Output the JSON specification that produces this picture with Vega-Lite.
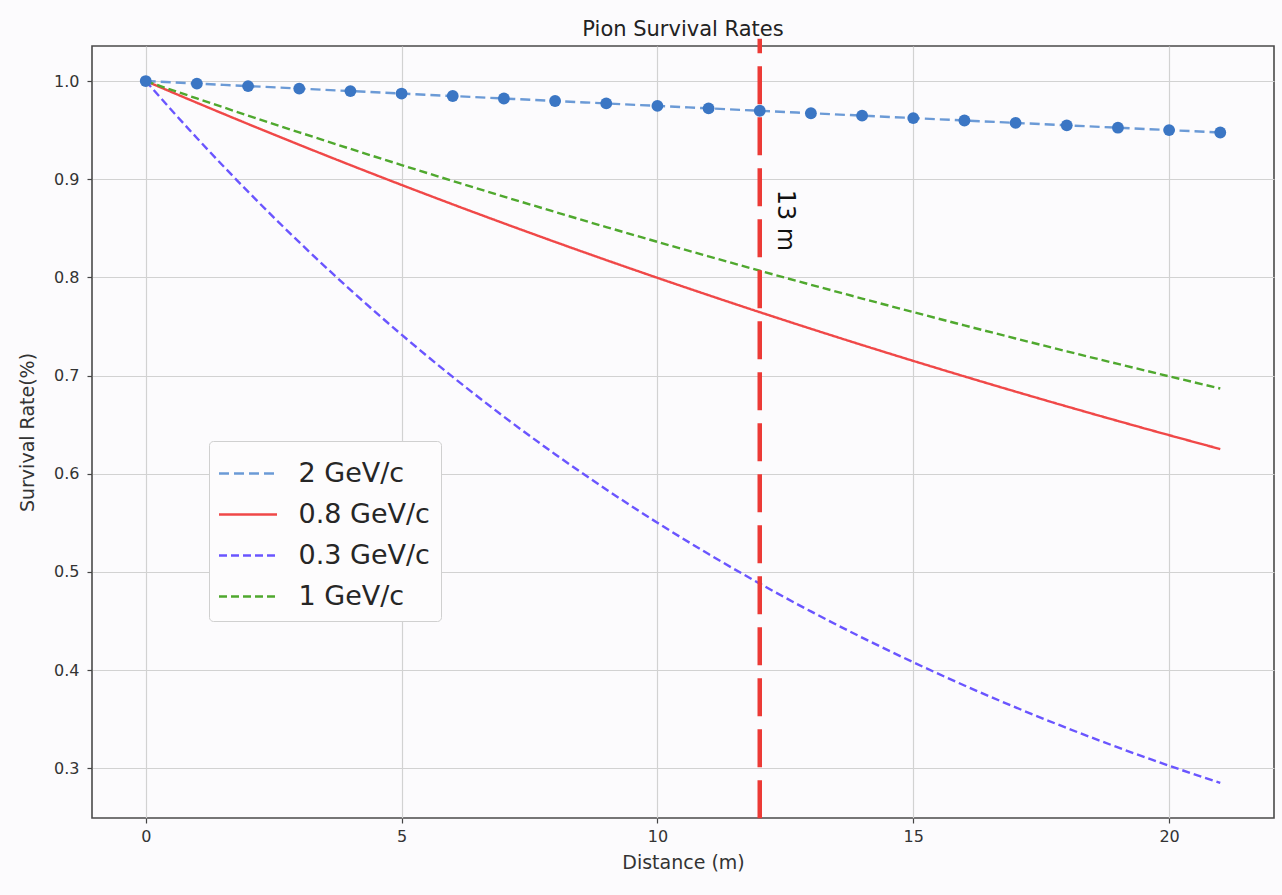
{
  "$schema": "https://vega.github.io/schema/vega-lite/v6.json",
  "width": 1182,
  "height": 772,
  "autosize": {"type": "none"},
  "padding": {"left": 92, "top": 46, "right": 8, "bottom": 77},
  "background": "#fcfbfd",
  "title": {"text": "Pion Survival Rates", "fontSize": 21, "fontWeight": "normal", "font": "DejaVu Sans", "color": "#222222", "offset": -3},
  "config": {
    "font": "DejaVu Sans",
    "view": {"stroke": "#4a4a4a", "strokeWidth": 1.6, "fill": "#fcfbfd"},
    "axis": {
      "domain": false,
      "grid": true,
      "gridColor": "#d2d2d2",
      "gridWidth": 1.2,
      "tickColor": "#444444",
      "tickSize": 5,
      "tickWidth": 1.2,
      "labelFont": "DejaVu Sans",
      "labelFontSize": 16,
      "labelColor": "#333333",
      "titleFont": "DejaVu Sans",
      "titleFontSize": 19,
      "titleFontWeight": "normal",
      "titleColor": "#333333"
    },
    "legend": {
      "orient": "none",
      "legendX": 117,
      "legendY": 395,
      "fillColor": "#fdfcfd",
      "strokeColor": "#d0d0d0",
      "cornerRadius": 4,
      "padding": 11,
      "labelFont": "DejaVu Sans",
      "labelFontSize": 27,
      "labelColor": "#262626",
      "labelOffset": 29,
      "symbolType": "M-1.45,0H1.45",
      "symbolSize": 1600,
      "symbolOffset": 6.5,
      "symbolStrokeWidth": 2.5,
      "rowPadding": 6
    }
  },
  "datasets": {
    "curves": [
      {"x": 0, "rate": 1.0, "series": "2 GeV/c"},
      {"x": 1, "rate": 0.99744, "series": "2 GeV/c"},
      {"x": 2, "rate": 0.99489, "series": "2 GeV/c"},
      {"x": 3, "rate": 0.99234, "series": "2 GeV/c"},
      {"x": 4, "rate": 0.98979, "series": "2 GeV/c"},
      {"x": 5, "rate": 0.98726, "series": "2 GeV/c"},
      {"x": 6, "rate": 0.98473, "series": "2 GeV/c"},
      {"x": 7, "rate": 0.98221, "series": "2 GeV/c"},
      {"x": 8, "rate": 0.9797, "series": "2 GeV/c"},
      {"x": 9, "rate": 0.97719, "series": "2 GeV/c"},
      {"x": 10, "rate": 0.97469, "series": "2 GeV/c"},
      {"x": 11, "rate": 0.9722, "series": "2 GeV/c"},
      {"x": 12, "rate": 0.96971, "series": "2 GeV/c"},
      {"x": 13, "rate": 0.96723, "series": "2 GeV/c"},
      {"x": 14, "rate": 0.96475, "series": "2 GeV/c"},
      {"x": 15, "rate": 0.96228, "series": "2 GeV/c"},
      {"x": 16, "rate": 0.95982, "series": "2 GeV/c"},
      {"x": 17, "rate": 0.95736, "series": "2 GeV/c"},
      {"x": 18, "rate": 0.95491, "series": "2 GeV/c"},
      {"x": 19, "rate": 0.95247, "series": "2 GeV/c"},
      {"x": 20, "rate": 0.95003, "series": "2 GeV/c"},
      {"x": 21, "rate": 0.9476, "series": "2 GeV/c"},
      {"x": 0, "rate": 1.0, "series": "0.8 GeV/c"},
      {"x": 1, "rate": 0.97788, "series": "0.8 GeV/c"},
      {"x": 2, "rate": 0.95624, "series": "0.8 GeV/c"},
      {"x": 3, "rate": 0.93509, "series": "0.8 GeV/c"},
      {"x": 4, "rate": 0.9144, "series": "0.8 GeV/c"},
      {"x": 5, "rate": 0.89417, "series": "0.8 GeV/c"},
      {"x": 6, "rate": 0.87439, "series": "0.8 GeV/c"},
      {"x": 7, "rate": 0.85505, "series": "0.8 GeV/c"},
      {"x": 8, "rate": 0.83613, "series": "0.8 GeV/c"},
      {"x": 9, "rate": 0.81763, "series": "0.8 GeV/c"},
      {"x": 10, "rate": 0.79954, "series": "0.8 GeV/c"},
      {"x": 11, "rate": 0.78186, "series": "0.8 GeV/c"},
      {"x": 12, "rate": 0.76456, "series": "0.8 GeV/c"},
      {"x": 13, "rate": 0.74765, "series": "0.8 GeV/c"},
      {"x": 14, "rate": 0.73111, "series": "0.8 GeV/c"},
      {"x": 15, "rate": 0.71493, "series": "0.8 GeV/c"},
      {"x": 16, "rate": 0.69912, "series": "0.8 GeV/c"},
      {"x": 17, "rate": 0.68365, "series": "0.8 GeV/c"},
      {"x": 18, "rate": 0.66853, "series": "0.8 GeV/c"},
      {"x": 19, "rate": 0.65374, "series": "0.8 GeV/c"},
      {"x": 20, "rate": 0.63927, "series": "0.8 GeV/c"},
      {"x": 21, "rate": 0.62513, "series": "0.8 GeV/c"},
      {"x": 0, "rate": 1.0, "series": "0.3 GeV/c"},
      {"x": 1, "rate": 0.94198, "series": "0.3 GeV/c"},
      {"x": 2, "rate": 0.88732, "series": "0.3 GeV/c"},
      {"x": 3, "rate": 0.83584, "series": "0.3 GeV/c"},
      {"x": 4, "rate": 0.78734, "series": "0.3 GeV/c"},
      {"x": 5, "rate": 0.74166, "series": "0.3 GeV/c"},
      {"x": 6, "rate": 0.69863, "series": "0.3 GeV/c"},
      {"x": 7, "rate": 0.65809, "series": "0.3 GeV/c"},
      {"x": 8, "rate": 0.61991, "series": "0.3 GeV/c"},
      {"x": 9, "rate": 0.58394, "series": "0.3 GeV/c"},
      {"x": 10, "rate": 0.55006, "series": "0.3 GeV/c"},
      {"x": 11, "rate": 0.51814, "series": "0.3 GeV/c"},
      {"x": 12, "rate": 0.48808, "series": "0.3 GeV/c"},
      {"x": 13, "rate": 0.45976, "series": "0.3 GeV/c"},
      {"x": 14, "rate": 0.43308, "series": "0.3 GeV/c"},
      {"x": 15, "rate": 0.40796, "series": "0.3 GeV/c"},
      {"x": 16, "rate": 0.38429, "series": "0.3 GeV/c"},
      {"x": 17, "rate": 0.36199, "series": "0.3 GeV/c"},
      {"x": 18, "rate": 0.34099, "series": "0.3 GeV/c"},
      {"x": 19, "rate": 0.3212, "series": "0.3 GeV/c"},
      {"x": 20, "rate": 0.30256, "series": "0.3 GeV/c"},
      {"x": 21, "rate": 0.28501, "series": "0.3 GeV/c"},
      {"x": 0, "rate": 1.0, "series": "1 GeV/c"},
      {"x": 1, "rate": 0.98227, "series": "1 GeV/c"},
      {"x": 2, "rate": 0.96485, "series": "1 GeV/c"},
      {"x": 3, "rate": 0.94775, "series": "1 GeV/c"},
      {"x": 4, "rate": 0.93094, "series": "1 GeV/c"},
      {"x": 5, "rate": 0.91444, "series": "1 GeV/c"},
      {"x": 6, "rate": 0.89822, "series": "1 GeV/c"},
      {"x": 7, "rate": 0.8823, "series": "1 GeV/c"},
      {"x": 8, "rate": 0.86666, "series": "1 GeV/c"},
      {"x": 9, "rate": 0.85129, "series": "1 GeV/c"},
      {"x": 10, "rate": 0.8362, "series": "1 GeV/c"},
      {"x": 11, "rate": 0.82137, "series": "1 GeV/c"},
      {"x": 12, "rate": 0.80681, "series": "1 GeV/c"},
      {"x": 13, "rate": 0.7925, "series": "1 GeV/c"},
      {"x": 14, "rate": 0.77845, "series": "1 GeV/c"},
      {"x": 15, "rate": 0.76465, "series": "1 GeV/c"},
      {"x": 16, "rate": 0.75109, "series": "1 GeV/c"},
      {"x": 17, "rate": 0.73777, "series": "1 GeV/c"},
      {"x": 18, "rate": 0.72469, "series": "1 GeV/c"},
      {"x": 19, "rate": 0.71184, "series": "1 GeV/c"},
      {"x": 20, "rate": 0.69922, "series": "1 GeV/c"},
      {"x": 21, "rate": 0.68683, "series": "1 GeV/c"}
    ],
    "marker": [
      {"distance": 12, "low": 0.249, "high": 1.043, "label": "13 m", "labelX": 12.5, "labelY": 0.858}
    ]
  },
  "layer": [
    {
      "data": {"name": "curves"},
      "mark": {"type": "line", "strokeWidth": 2.4, "interpolate": "monotone"},
      "encoding": {
        "x": {
          "field": "x", "type": "quantitative",
          "scale": {"domain": [-1.05, 22.05], "nice": false, "zero": false},
          "axis": {"title": "Distance (m)", "values": [0, 5, 10, 15, 20], "labelPadding": 5, "titlePadding": 9}
        },
        "y": {
          "field": "rate", "type": "quantitative",
          "scale": {"domain": [0.2493, 1.0357], "nice": false, "zero": false},
          "axis": {"title": "Survival Rate(%)", "values": [0.3, 0.4, 0.5, 0.6, 0.7, 0.8, 0.9, 1.0], "format": ".1f", "labelPadding": 8, "titlePadding": 16}
        },
        "color": {
          "field": "series", "type": "nominal",
          "scale": {"domain": ["2 GeV/c", "0.8 GeV/c", "0.3 GeV/c", "1 GeV/c"], "range": ["#6b9ad6", "#f04848", "#6a55ff", "#4fa82e"]},
          "legend": {"title": null}
        },
        "strokeDash": {
          "field": "series", "type": "nominal",
          "scale": {"domain": ["2 GeV/c", "0.8 GeV/c", "0.3 GeV/c", "1 GeV/c"], "range": [[10, 5], [1, 0], [8, 4], [8, 4]]},
          "legend": {"title": null}
        }
      }
    },
    {
      "data": {"name": "curves"},
      "transform": [{"filter": "datum.series === '2 GeV/c'"}],
      "mark": {"type": "point", "filled": true, "size": 140, "color": "#3b76c4", "opacity": 1},
      "encoding": {
        "x": {"field": "x", "type": "quantitative"},
        "y": {"field": "rate", "type": "quantitative"}
      }
    },
    {
      "data": {"name": "marker"},
      "mark": {"type": "rule", "color": "#ec3a36", "strokeWidth": 4.5, "strokeDash": [38, 13], "clip": false},
      "encoding": {
        "x": {"field": "distance", "type": "quantitative"},
        "y": {"field": "low", "type": "quantitative"},
        "y2": {"field": "high"}
      }
    },
    {
      "data": {"name": "marker"},
      "mark": {"type": "text", "angle": 90, "fontSize": 24, "font": "DejaVu Sans", "color": "#111111", "align": "center", "baseline": "middle"},
      "encoding": {
        "x": {"field": "labelX", "type": "quantitative"},
        "y": {"field": "labelY", "type": "quantitative"},
        "text": {"field": "label"}
      }
    }
  ]
}
